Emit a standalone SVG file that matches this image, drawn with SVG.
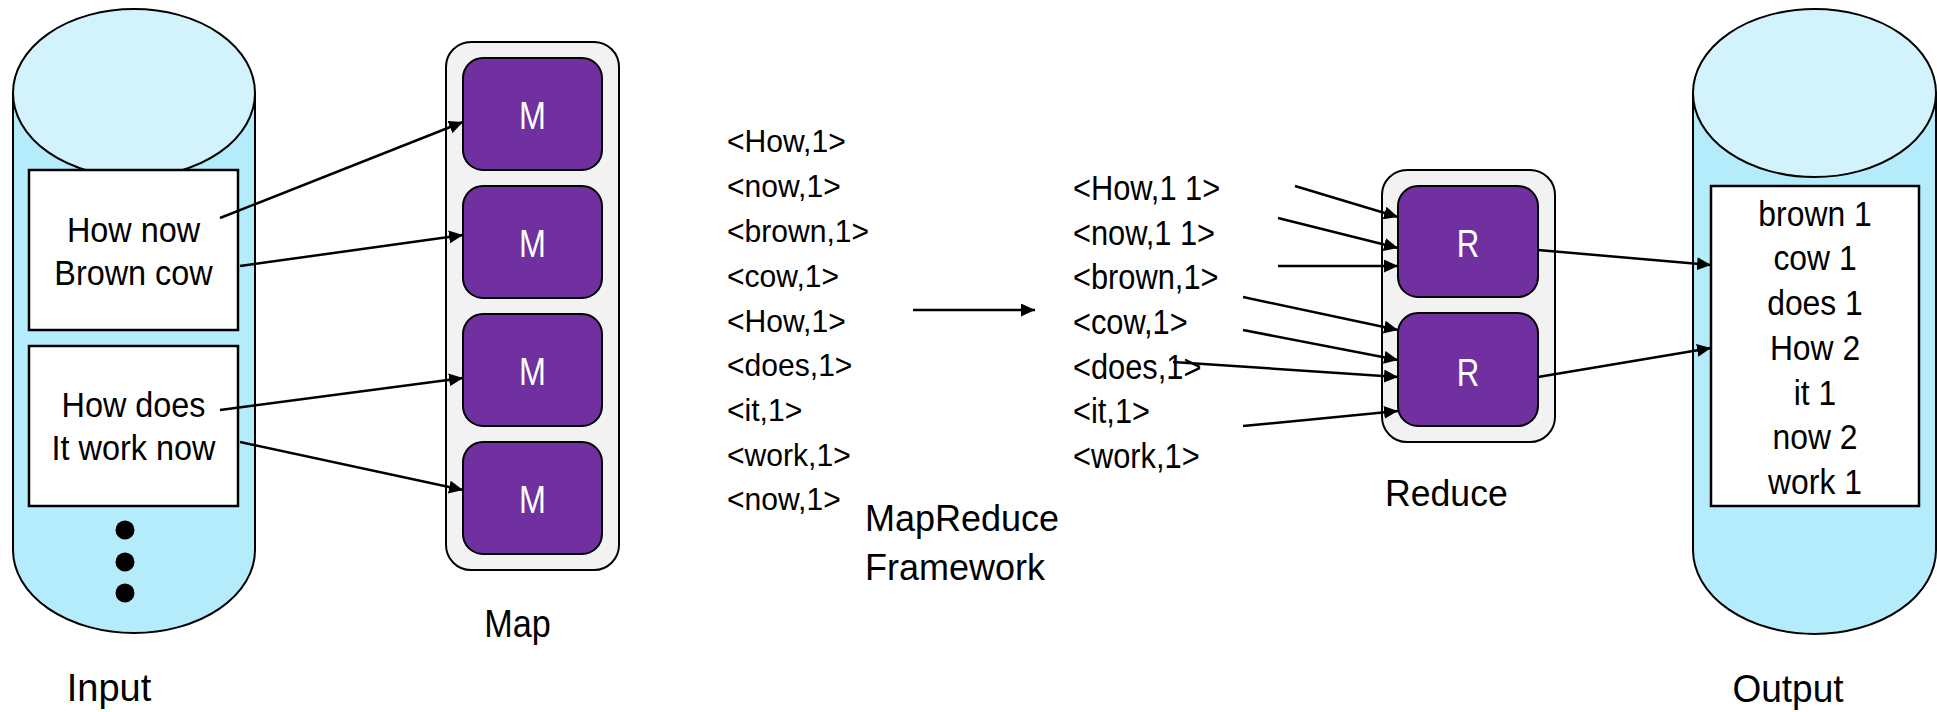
<svg xmlns="http://www.w3.org/2000/svg" width="1937" height="712" viewBox="0 0 1937 712">
  <style>
    text { font-family: "Liberation Sans", Arial, sans-serif; fill: #000; }
    .body { fill: #b4ecfc; stroke: #000; stroke-width: 2; }
    .cap { fill: #d2f3fc; stroke: #000; stroke-width: 2; }
    .doc { fill: #fff; stroke: #000; stroke-width: 2.5; }
    .tray { fill: #f2f2f2; stroke: #000; stroke-width: 2; }
    .task { fill: #7030a0; stroke: #000; stroke-width: 2; }
    .tasklbl { fill: #fff; font-size: 38px; text-anchor: middle; }
    .edge { stroke: #000; stroke-width: 2.5; fill: none; marker-end: url(#arrow); }
    .mid { text-anchor: middle; }
  </style>
  <defs>
    <marker id="arrow" markerUnits="userSpaceOnUse" markerWidth="15" markerHeight="13" refX="14" refY="6.5" orient="auto">
      <path d="M0,0 L14,6.5 L0,13 z" fill="#000"/>
    </marker>
  </defs>

  <rect width="1937" height="712" fill="#fff"/>

  <!-- Input store -->
  <g id="input">
    <path class="body" d="M13,93 L13,550 A121,83 0 0 0 255,550 L255,93 Z"/>
    <ellipse class="cap" cx="134" cy="93" rx="121" ry="84"/>
    <rect class="doc" x="29" y="170" width="209" height="160"/>
    <rect class="doc" x="29" y="346" width="209" height="160"/>
    <g transform="translate(133.5,0) scale(0.9,1)" font-size="36">
      <text class="mid" x="0" y="242">How now</text>
      <text class="mid" x="0" y="285">Brown cow</text>
      <text class="mid" x="0" y="417">How does</text>
      <text class="mid" x="0" y="460">It work now</text>
    </g>
    <circle cx="125" cy="530" r="9.5"/>
    <circle cx="125" cy="562" r="9.5"/>
    <circle cx="125" cy="593" r="9.5"/>
    <text class="mid" x="109" y="701" font-size="38">Input</text>
  </g>

  <!-- Map stage -->
  <g id="map">
    <rect class="tray" x="446" y="42" width="173" height="528" rx="25"/>
    <rect class="task" x="463" y="58" width="139" height="112" rx="20"/>
    <rect class="task" x="463" y="186" width="139" height="112" rx="20"/>
    <rect class="task" x="463" y="314" width="139" height="112" rx="20"/>
    <rect class="task" x="463" y="442" width="139" height="112" rx="20"/>
    <text class="tasklbl" transform="translate(532.5,129) scale(0.85,1)">M</text>
    <text class="tasklbl" transform="translate(532.5,257) scale(0.85,1)">M</text>
    <text class="tasklbl" transform="translate(532.5,385) scale(0.85,1)">M</text>
    <text class="tasklbl" transform="translate(532.5,513) scale(0.85,1)">M</text>
    <text class="mid" transform="translate(517.5,637) scale(0.9,1)" font-size="38">Map</text>
  </g>

  <!-- Intermediate pairs emitted by the mappers -->
  <g id="pairs" transform="translate(727,0) scale(0.94,1)" font-size="32">
    <text x="0" y="152">&lt;How,1&gt;</text>
    <text x="0" y="197">&lt;now,1&gt;</text>
    <text x="0" y="242">&lt;brown,1&gt;</text>
    <text x="0" y="287">&lt;cow,1&gt;</text>
    <text x="0" y="332">&lt;How,1&gt;</text>
    <text x="0" y="376">&lt;does,1&gt;</text>
    <text x="0" y="421">&lt;it,1&gt;</text>
    <text x="0" y="466">&lt;work,1&gt;</text>
    <text x="0" y="510">&lt;now,1&gt;</text>
  </g>

  <g id="framework" font-size="37.5">
    <text transform="translate(865,531) scale(0.96,1)">MapReduce</text>
    <text transform="translate(865,580) scale(0.96,1)">Framework</text>
  </g>

  <!-- Grouped pairs after shuffle -->
  <g id="grouped" transform="translate(1073,0) scale(0.88,1)" font-size="35">
    <text x="0" y="200">&lt;How,1 1&gt;</text>
    <text x="0" y="245">&lt;now,1 1&gt;</text>
    <text x="0" y="289">&lt;brown,1&gt;</text>
    <text x="0" y="334">&lt;cow,1&gt;</text>
    <text x="0" y="379">&lt;does,1&gt;</text>
    <text x="0" y="423">&lt;it,1&gt;</text>
    <text x="0" y="468">&lt;work,1&gt;</text>
  </g>

  <!-- Reduce stage -->
  <g id="reduce">
    <rect class="tray" x="1382" y="170" width="173" height="272" rx="25"/>
    <rect class="task" x="1398" y="186" width="140" height="111" rx="20"/>
    <rect class="task" x="1398" y="313" width="140" height="113" rx="20"/>
    <text class="tasklbl" transform="translate(1468,257) scale(0.82,1)" font-size="37">R</text>
    <text class="tasklbl" transform="translate(1468,386) scale(0.82,1)" font-size="37">R</text>
    <text transform="translate(1385,506) scale(0.95,1)" font-size="37.5">Reduce</text>
  </g>

  <!-- Output store -->
  <g id="output">
    <path class="body" d="M1693,93 L1693,550 A121.5,84 0 0 0 1936,550 L1936,93 Z"/>
    <ellipse class="cap" cx="1814.5" cy="93" rx="121.5" ry="84"/>
    <rect class="doc" x="1711" y="186" width="208" height="320"/>
    <g transform="translate(1815,0) scale(0.91,1)" font-size="35">
      <text class="mid" x="0" y="226">brown 1</text>
      <text class="mid" x="0" y="270">cow 1</text>
      <text class="mid" x="0" y="315">does 1</text>
      <text class="mid" x="0" y="360">How 2</text>
      <text class="mid" x="0" y="405">it 1</text>
      <text class="mid" x="0" y="449">now 2</text>
      <text class="mid" x="0" y="494">work 1</text>
    </g>
    <text class="mid" transform="translate(1788,702) scale(0.95,1)" font-size="39">Output</text>
  </g>

  <!-- Connectors -->
  <g id="connectors">
    <line class="edge" x1="220" y1="218" x2="463" y2="122"/>
    <line class="edge" x1="240" y1="266" x2="463" y2="235"/>
    <line class="edge" x1="220" y1="410" x2="463" y2="378"/>
    <line class="edge" x1="240" y1="442" x2="463" y2="490"/>

    <line class="edge" x1="913" y1="310" x2="1035" y2="310"/>

    <line class="edge" x1="1295" y1="186" x2="1398" y2="217"/>
    <line class="edge" x1="1278" y1="218" x2="1398" y2="248"/>
    <line class="edge" x1="1278" y1="266" x2="1398" y2="266"/>
    <line class="edge" x1="1243" y1="297" x2="1398" y2="330"/>
    <line class="edge" x1="1243" y1="330" x2="1398" y2="360"/>
    <line class="edge" x1="1173" y1="362" x2="1398" y2="377"/>
    <line class="edge" x1="1243" y1="426" x2="1398" y2="411"/>

    <line class="edge" x1="1538" y1="250" x2="1711" y2="265"/>
    <line class="edge" x1="1538" y1="377" x2="1711" y2="348"/>
  </g>
</svg>
